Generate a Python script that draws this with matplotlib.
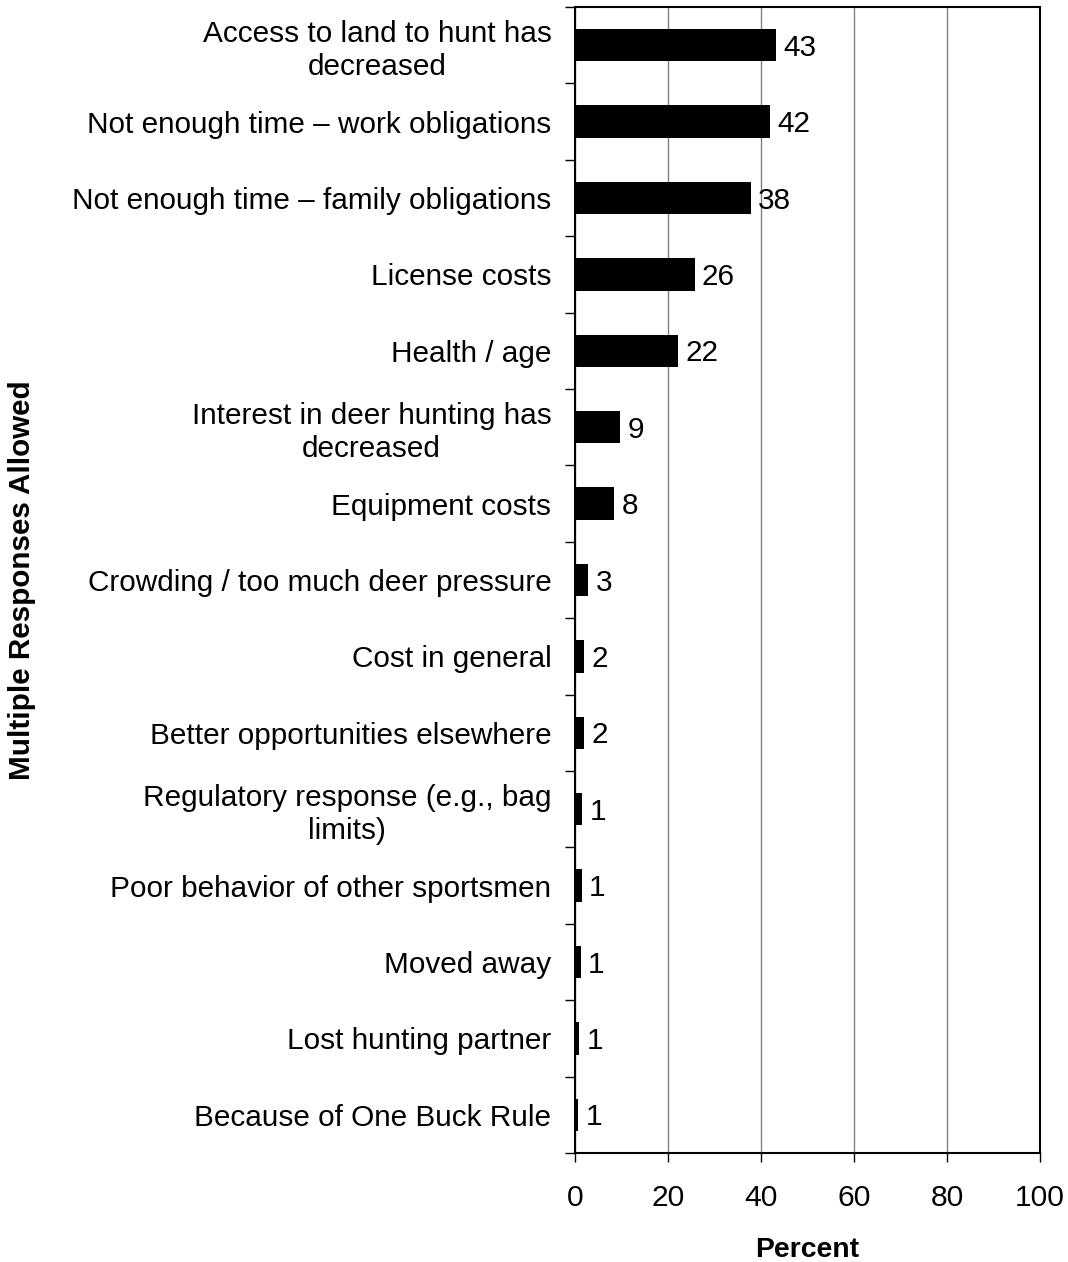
import numpy as np
import matplotlib.pyplot as plt
from matplotlib.ticker import FixedLocator

plt.rcParams['font.family'] = ['Liberation Sans', 'DejaVu Sans']

# reasons, top to bottom
reasons = ['Access to land to hunt has\ndecreased',
           'Not enough time \u2013 work obligations',
           'Not enough time \u2013 family obligations',
           'License costs',
           'Health / age',
           'Interest in deer hunting has\ndecreased',
           'Equipment costs',
           'Crowding / too much deer pressure',
           'Cost in general',
           'Better opportunities elsewhere',
           'Regulatory response (e.g., bag\nlimits)',
           'Poor behavior of other sportsmen',
           'Moved away',
           'Lost hunting partner',
           'Because of One Buck Rule']
# bar lengths (unrounded) and printed labels
percent = [43.3, 41.9, 37.8, 25.7, 22.1, 9.7, 8.4, 2.9, 2.0, 2.0, 1.6, 1.4, 1.2, 0.9, 0.65]
labels = ['43', '42', '38', '26', '22', '9', '8', '3', '2', '2', '1', '1', '1', '1', '1']

W, H = 1068, 1262
fig = plt.figure(figsize=(W / 100, H / 100), dpi=100)
ax = fig.add_axes([575 / W, 1 - 1153 / H, 465 / W, 1146 / H])

y = np.arange(len(reasons))
ax.barh(y, percent, height=0.425, color='black', zorder=3)
for yi, v, lab in zip(y, percent, labels):
    # baseline a bit below the bar centre so the digits sit centred on it
    ax.text(v + 1.6, yi + 0.14, lab, va='baseline', ha='left', fontsize=21.4)

ax.set_xlim(0, 100)
ax.set_ylim(len(reasons) - 0.5, -0.5)
ax.set_xticks([0, 20, 40, 60, 80, 100])
ax.tick_params(axis='x', labelsize=21.6, direction='out', length=6.5, width=1, pad=16)
ax.xaxis.grid(True, color='#808080', linewidth=1, zorder=0)

ax.set_yticks(y)
ax.set_yticklabels(reasons, fontsize=21.4, multialignment='center')
ax.tick_params(axis='y', which='major', length=0, pad=17)
ax.yaxis.set_minor_locator(FixedLocator(np.arange(-0.5, len(reasons), 1)))
ax.tick_params(axis='y', which='minor', length=7, width=1, direction='out')

for s in ax.spines.values():
    s.set_linewidth(1.5)

fig.text(807 / W, 1 - 1257 / H, 'Percent', fontsize=20.4, fontweight='bold',
         ha='center', va='baseline')
fig.text(22 / W, 1 - 580 / H, 'Multiple Responses Allowed', rotation=90,
         fontsize=21.3, fontweight='bold', ha='center', va='center')

fig.savefig('out.png', dpi=100)
